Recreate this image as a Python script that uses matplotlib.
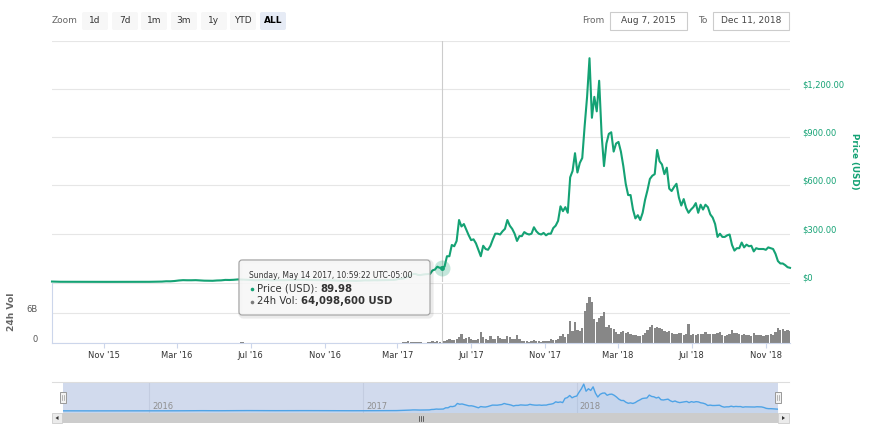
import matplotlib
matplotlib.use("Agg")
import matplotlib.pyplot as plt
import matplotlib.dates as mdates
import matplotlib.transforms as mtransforms
from matplotlib.patches import FancyBboxPatch, Rectangle, Polygon
import pandas as pd

# ---------------- data ----------------
# weekly closes, Aug 7 2015 .. Feb 24 2017 (USD)
price_weekly = [
    2.8, 1.8, 1.4, 1.3, 1.3, 1.0, 0.9, 0.75, 0.68, 0.63, 0.52, 0.58, 1.0,
    0.92, 0.90, 0.95, 0.87, 0.83, 0.85, 0.88, 0.87,
    0.95, 0.98, 1.2, 1.5, 2.4,
    2.6, 4.5, 4.3, 6.2,
    9.5, 11.5, 10.8, 10.8,
    11.5, 9.8, 8.3, 7.7, 7.5,
    9.4, 10.2, 13.0, 12.5,
    13.8, 16.0, 15.2, 14.0,
    12.3, 10.8, 11.4, 14.5, 12.5,
    10.5, 11.7, 11.3, 11.2,
    12.0, 11.7, 12.6, 13.2, 13.2,
    12.0, 11.9, 12.0, 11.5,
    11.0, 10.3, 9.7, 8.5,
    7.8, 8.4, 7.7, 7.2, 8.2,
    10.2, 9.8, 10.7, 10.6, 11.2, 11.3, 12.8, 13.1,
]
# weekly 24h volume (billions USD), same dates
vol_weekly = [
    0.0007, 0.0015, 0.0012, 0.0008, 0.0006, 0.0005, 0.0005, 0.0004, 0.0003,
    0.0004, 0.0003, 0.0004, 0.0012, 0.0009, 0.0006, 0.0005, 0.0004, 0.0004,
    0.0004, 0.0005, 0.0004,
    0.0005, 0.0006, 0.001, 0.002, 0.004,
    0.006, 0.012, 0.01, 0.02,
    0.03, 0.04, 0.03, 0.025,
    0.02, 0.015, 0.012, 0.01, 0.01,
    0.015, 0.015, 0.025, 0.02,
    0.025, 0.06, 0.15, 0.05,
    0.03, 0.02, 0.02, 0.05, 0.03,
    0.015, 0.012, 0.01, 0.01,
    0.01, 0.01, 0.012, 0.015, 0.012,
    0.01, 0.008, 0.008, 0.01,
    0.012, 0.01, 0.01, 0.012,
    0.012, 0.01, 0.01, 0.01, 0.012,
    0.015, 0.013, 0.012, 0.011, 0.012, 0.012, 0.015, 0.02,
]
# closes every 4 days, Feb 27 2017 .. Dec 11 2018 (USD)
price_4d = [
    15.0,
    19.0, 19.5, 21.5, 28.5, 34, 42, 50, 50,
    44, 43, 46, 48, 49, 50, 72,
    77, 95, 88, 90, 96, 160, 160, 230,
    222, 255, 385, 345, 360, 325, 290,
    260, 265, 240, 200, 160, 225, 205, 200,
    225, 265, 300, 300, 295, 315, 330, 385,
    350, 330, 300, 255, 285, 285, 310,
    300, 295, 300, 340, 315, 300, 295, 305,
    290, 300, 300, 335, 350, 380, 470, 440,
    465, 430, 650, 690, 800, 680, 740,
    770, 970, 1150, 1390, 1020, 1150, 1060, 1250,
    920, 720, 860, 920, 930, 810, 860,
    870, 810, 720, 610, 540, 540, 450, 395,
    415, 385, 430, 510, 570, 640, 660,
    670, 820, 750, 730, 670, 710, 580, 565,
    590, 610, 525, 475, 515, 460, 430, 450,
    465, 490, 430, 480, 450, 480, 465,
    420, 400, 360, 280, 300, 280, 280, 290,
    295, 230, 195, 210, 210, 245, 215, 232,
    222, 225, 190, 210, 205, 205, 205,
    200, 215, 210, 205, 175, 130, 115, 115,
    105, 92, 88,
]
# 24h volume every 4 days (billions USD), same dates as price_4d
vol_4d = [
    0.03,
    0.06, 0.05, 0.12, 0.3, 0.35, 0.25, 0.3, 0.15,
    0.22, 0.12, 0.1, 0.09, 0.12, 0.18, 0.35,
    0.3, 0.35, 0.3, 0.07, 0.35, 0.6, 0.9, 0.7,
    0.6, 0.8, 1.2, 1.8, 0.9, 1.0, 1.3,
    0.8, 0.7, 0.6, 0.9, 2.2, 1.3, 0.8, 0.7,
    1.4, 0.9, 0.8, 1.5, 1.0, 0.9, 0.8, 1.4,
    1.3, 0.9, 0.8, 1.6, 0.8, 0.5, 0.5,
    0.35, 0.3, 0.35, 0.7, 0.4, 0.35, 0.3, 0.35,
    0.45, 0.5, 0.9, 0.6, 0.6, 0.9, 1.5, 1.8,
    1.2, 1.9, 4.5, 2.5, 4.3, 2.6, 2.4,
    3.0, 6.5, 8.0, 9.3, 8.3, 4.8, 4.2, 5.0,
    5.5, 6.2, 3.2, 3.6, 3.0, 2.8, 2.2,
    1.9, 2.2, 2.4, 2.0, 2.2, 1.8, 1.7, 1.6,
    1.5, 1.4, 1.6, 2.0, 2.6, 3.2, 3.6,
    3.0, 3.3, 3.0, 2.8, 2.5, 2.3, 2.4, 2.1,
    1.8, 1.9, 2.0, 2.1, 1.7, 1.8, 3.9, 1.7,
    1.8, 1.7, 1.8, 1.9, 1.8, 2.2, 1.9,
    1.9, 1.8, 1.9, 2.0, 2.3, 1.7, 1.5, 1.7,
    1.8, 2.6, 2.0, 2.1, 1.8, 1.7, 1.8, 1.6,
    1.6, 1.5, 2.0, 1.7, 1.6, 1.6, 1.5,
    1.6, 1.7, 1.8, 1.6, 2.2, 3.0, 2.6, 2.9,
    2.5, 2.7, 2.4,
]
price_ticks = [0, 300, 600, 900, 1200, 1500]
price_tick_labels = ["$0", "$300.00", "$600.00", "$900.00", "$1,200.00", ""]
vol_ticks = [0, 6, 12]
vol_tick_labels = ["0", "6B", ""]
zoom_buttons = ["1d", "7d", "1m", "3m", "1y", "YTD", "ALL"]
range_from, range_to = "Aug 7, 2015", "Dec 11, 2018"
tip_date = "2017-05-14"
tip_header = "Sunday, May 14 2017, 10:59:22 UTC-05:00"
tip_price = 89.98
tip_vol = "64,098,600 USD"
nav_years = ["2016", "2017", "2018"]

d_weekly = pd.date_range("2015-08-07", periods=len(price_weekly), freq="7D")
d_4d = pd.date_range("2017-02-27", periods=len(price_4d), freq="4D")
dates = d_weekly.append(d_4d)
prices = list(price_weekly) + list(price_4d)
x_start, x_end = pd.Timestamp("2015-08-07"), pd.Timestamp("2018-12-11")

# ---------------- style ----------------
GREEN = "#14a274"
GRID = "#e6e6e6"
AXIS = "#ccd6eb"
VOLC = "#878787"
W, H = 870, 432
fig = plt.figure(figsize=(8.7, 4.32), dpi=100)
fig.patch.set_facecolor("white")


def rect(x0, y0, x1, y1):
    return [x0 / W, 1 - y1 / H, (x1 - x0) / W, (y1 - y0) / H]


# ---------------- price pane ----------------
ax_p = fig.add_axes(rect(52, 40.5, 790, 282))
ax_p.plot(dates, prices, color=GREEN, lw=1.5, solid_joinstyle="round", zorder=3, clip_on=False)
ax_p.set_xlim(x_start, x_end)
ax_p.set_ylim(0, 1500)
ax_p.set_yticks(price_ticks)
ax_p.set_yticklabels([])
ax_p.tick_params(axis="both", length=0, labelbottom=False, labelleft=False)
ax_p.set_xticks([])
ax_p.grid(axis="y", color=GRID, lw=0.8)
for s in ax_p.spines.values():
    s.set_visible(False)
tr_p = mtransforms.offset_copy(
    mtransforms.blended_transform_factory(ax_p.transAxes, ax_p.transData), fig, x=12, y=4, units="dots")
for v, lab in zip(price_ticks, price_tick_labels):
    ax_p.text(1.0, v, lab, transform=tr_p, ha="left", va="center", fontsize=6, color=GREEN)

# crosshair + hovered point
tdate = pd.Timestamp(tip_date)
ax_p.axvline(tdate, color="#cccccc", lw=0.8, zorder=2)
ax_p.plot([tdate], [tip_price], "o", ms=11.5, color=GREEN, alpha=0.25, mec="none", zorder=4)
ax_p.plot([tdate], [tip_price], "o", ms=3.5, color=GREEN, mec="none", zorder=5)

# ---------------- volume pane ----------------
ax_v = fig.add_axes(rect(52, 283, 790, 343))
ax_v.bar(d_weekly, vol_weekly, width=6, color=VOLC, lw=0)
ax_v.bar(d_4d, vol_4d, width=3.7, color=VOLC, lw=0)
ax_v.axvline(tdate, color="#cccccc", lw=0.8, zorder=0)
ax_v.set_xlim(x_start, x_end)
ax_v.set_ylim(0, 12)
ax_v.set_yticks(vol_ticks)
ax_v.set_yticklabels([])
ax_v.tick_params(axis="y", length=0)
ax_v.grid(axis="y", color=GRID, lw=0.8)
ax_v.set_axisbelow(True)
for k in ("top", "right"):
    ax_v.spines[k].set_visible(False)
for k in ("bottom", "left"):
    ax_v.spines[k].set_color(AXIS)
    ax_v.spines[k].set_linewidth(0.8)
ax_v.xaxis.set_major_locator(mdates.MonthLocator(bymonth=[3, 7, 11]))
ax_v.xaxis.set_major_formatter(mdates.DateFormatter("%b '%y"))
ax_v.tick_params(axis="x", length=3.6, width=0.8, color=AXIS, labelsize=6, labelcolor="#333333", pad=2)
tr_v = mtransforms.offset_copy(
    mtransforms.blended_transform_factory(ax_v.transAxes, ax_v.transData), fig, x=-14, y=4, units="dots")
for v, lab in zip(vol_ticks, vol_tick_labels):
    ax_v.text(0.0, v, lab, transform=tr_v, ha="right", va="center", fontsize=6, color="#555555")

# ---------------- navigator ----------------
ax_n = fig.add_axes(rect(63, 382, 778, 413))
ax_n.set_facecolor((209 / 255, 218 / 255, 237 / 255))
ax_n.plot(dates, prices, color="#4ea3e6", lw=1.0, zorder=3)
ax_n.fill_between(dates, prices, -200, color="#4ea3e6", alpha=0.08, lw=0, zorder=2)
ax_n.set_xlim(x_start, x_end)
ax_n.set_ylim(-110, 1500)
ax_n.set_xticks([])
ax_n.set_yticks([])
for s in ax_n.spines.values():
    s.set_visible(False)
tr_n = mtransforms.offset_copy(
    mtransforms.blended_transform_factory(ax_n.transData, ax_n.transAxes), fig, x=3, y=0, units="dots")
for yr in nav_years:
    yd = pd.Timestamp(yr + "-01-01")
    ax_n.axvline(yd, color="#c3cce0", lw=0.8, zorder=1)
    ax_n.text(yd, 0.12, yr, transform=tr_n, ha="left", va="baseline", fontsize=6, color="#8f8f8f", zorder=4)

# ---------------- overlay (UI chrome) ----------------
ax_o = fig.add_axes([0, 0, 1, 1], zorder=10)
ax_o.set_xlim(0, W)
ax_o.set_ylim(H, 0)
ax_o.axis("off")
ax_o.patch.set_alpha(0)

# range selector buttons
ax_o.text(52, 20.5, "Zoom", ha="left", va="center", fontsize=6.5, color="#666666")
btn_x = [82, 112, 141, 171, 201, 230, 260]
for bx, lab in zip(btn_x, zoom_buttons):
    sel = lab == "ALL"
    ax_o.add_patch(FancyBboxPatch((bx, 12), 26, 18, boxstyle="round,pad=0,rounding_size=2",
                                  fc="#e6ebf5" if sel else "#f7f7f7", ec="none"))
    ax_o.text(bx + 13, 20.5, lab, ha="center", va="center", fontsize=6.5,
              color="#000000" if sel else "#333333", fontweight="bold" if sel else "normal")

ax_o.text(604, 20.5, "From", ha="right", va="center", fontsize=6.5, color="#666666")
ax_o.add_patch(Rectangle((610, 12), 77, 18, fc="white", ec="#cccccc", lw=0.8))
ax_o.text(648.5, 20.5, range_from, ha="center", va="center", fontsize=6.5, color="#444444")
ax_o.text(707, 20.5, "To", ha="right", va="center", fontsize=6.5, color="#666666")
ax_o.add_patch(Rectangle((713, 12), 76, 18, fc="white", ec="#cccccc", lw=0.8))
ax_o.text(751, 20.5, range_to, ha="center", va="center", fontsize=6.5, color="#444444")

# axis titles
ax_o.text(855, 161, "Price (USD)", rotation=270, ha="center", va="center", fontsize=6.3,
          color=GREEN, fontweight="bold")
ax_o.text(12, 312, "24h Vol", rotation=90, ha="center", va="center", fontsize=6.6,
          color="#666666", fontweight="bold")

# tooltip
ax_o.add_patch(FancyBboxPatch((240.5, 261.5), 191, 55, boxstyle="round,pad=0,rounding_size=3",
                              fc="none", ec=(0, 0, 0, 0.08), lw=3))
ax_o.add_patch(FancyBboxPatch((239, 260), 191, 55, boxstyle="round,pad=0,rounding_size=3",
                              fc=(247 / 255, 247 / 255, 247 / 255, 0.88), ec="#a0a0a0", lw=0.8))
ax_o.text(249, 276, tip_header, ha="left", va="center", fontsize=5.5, color="#333333")
ax_o.plot([252], [288.5], "o", ms=2.6, color=GREEN, mec="none")
ax_o.plot([252], [301.5], "o", ms=2.6, color="#7b7b7b", mec="none")
renderer = fig.canvas.get_renderer()
t1 = ax_o.text(257, 288.5, "Price (USD): ", ha="left", va="center", fontsize=7.3, color="#333333")
x1 = t1.get_window_extent(renderer=renderer).x1
ax_o.text(x1, 288.5, "%.2f" % tip_price, ha="left", va="center", fontsize=7.3, color="#333333",
          fontweight="bold")
t2 = ax_o.text(257, 301.5, "24h Vol: ", ha="left", va="center", fontsize=7.3, color="#333333")
x2 = t2.get_window_extent(renderer=renderer).x1
ax_o.text(x2, 301.5, tip_vol, ha="left", va="center", fontsize=7.3, color="#333333", fontweight="bold")

# navigator outline, handles, scrollbar
ax_o.plot([52, 789], [382, 382], color="#dddddd", lw=0.8)
for hx in (63, 778):
    ax_o.add_patch(Rectangle((hx - 3, 392), 6, 11, fc="#f2f2f2", ec="#999999", lw=0.7))
    ax_o.plot([hx - 1, hx - 1], [395, 400], color="#999999", lw=0.5)
    ax_o.plot([hx + 1, hx + 1], [395, 400], color="#999999", lw=0.5)
ax_o.add_patch(Rectangle((62, 413), 716, 10, fc="#cccccc", ec="none"))
ax_o.add_patch(Rectangle((52, 413), 10, 10, fc="#ebebeb", ec="#cccccc", lw=0.6))
ax_o.add_patch(Rectangle((778, 413), 11, 10, fc="#ebebeb", ec="#cccccc", lw=0.6))
ax_o.add_patch(Polygon([[58.5, 416], [58.5, 420], [55.5, 418]], closed=True, fc="#333333", ec="none"))
ax_o.add_patch(Polygon([[782, 416], [782, 420], [785, 418]], closed=True, fc="#333333", ec="none"))
for lx in (419, 421, 423):
    ax_o.plot([lx, lx], [415.5, 420.5], color="#333333", lw=0.5)

fig.savefig("out.png", dpi=100, facecolor="white")
